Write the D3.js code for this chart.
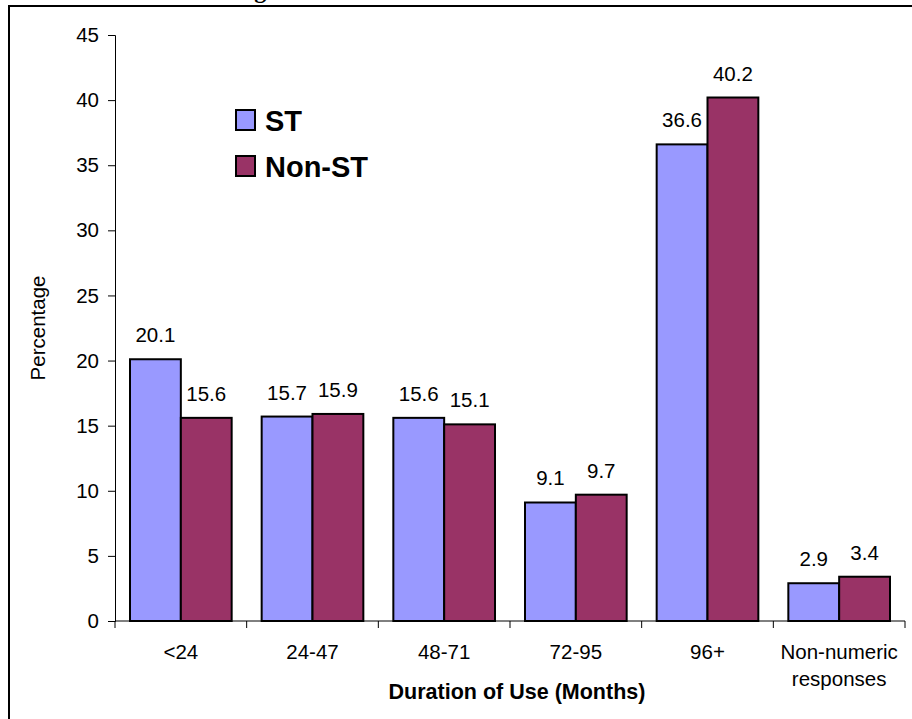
<!DOCTYPE html>
<html>
<head>
<meta charset="utf-8">
<script src="https://cdn.jsdelivr.net/npm/d3@7"></script>
<style>
  html, body { margin: 0; padding: 0; background: #fff; }
  svg { display: block; }
  text { font-family: Arial, "Liberation Sans", sans-serif; fill: #000; }
</style>
</head>
<body>
<svg id="chart" width="912" height="719"></svg>
<script>
// Duration of use, percentage of respondents by group
const categories = ["<24", "24-47", "48-71", "72-95", "96+", "Non-numeric responses"];
const seriesNames = ["ST", "Non-ST"];
const stValues = [20.1, 15.7, 15.6, 9.1, 36.6, 2.9];
const nonStValues = [15.6, 15.9, 15.1, 9.7, 40.2, 3.4];
const yTicks = [0, 5, 10, 15, 20, 25, 30, 35, 40, 45];
const colors = ["#9999FF", "#993366"];

const svg = d3.select("#chart");

// Figure frame (continues past the right and bottom edges)
svg.append("rect")
  .attr("x", 9).attr("y", 6)
  .attr("width", 1000).attr("height", 800)
  .attr("fill", "none").attr("stroke", "#000").attr("stroke-width", 2);

// Caption line above the frame, mostly outside the page
svg.append("text")
  .attr("x", 233).attr("y", -2)
  .style("font-family", "'Liberation Serif', 'Times New Roman', serif")
  .style("font-weight", "bold").style("font-size", "24px")
  .text("Figure");

const plot = { left: 115, right: 905, top: 35, bottom: 621 };

const x0 = d3.scaleBand().domain(categories).range([plot.left, plot.right]).padding(0);
const x1 = d3.scaleBand().domain(seriesNames).range([15, x0.bandwidth() - 15]).padding(0);
const y = d3.scaleLinear().domain([0, 45]).range([plot.bottom, plot.top]);

const rows = categories.map((c, i) => ({ cat: c, values: [stValues[i], nonStValues[i]] }));

// Y axis
const yAxis = svg.append("g")
  .attr("transform", `translate(${plot.left},0)`)
  .call(d3.axisLeft(y).tickValues(yTicks).tickSize(7).tickPadding(9).tickFormat(d3.format("d")));
yAxis.select(".domain").attr("stroke", "#000").attr("stroke-width", 1);
yAxis.selectAll(".tick line").attr("stroke", "#000");
yAxis.selectAll(".tick text").style("font-size", "20.5px").style("font-family", "Arial, 'Liberation Sans', sans-serif").attr("fill", "#000");

// Bars
const groups = svg.append("g").selectAll("g")
  .data(rows).join("g")
  .attr("transform", d => `translate(${x0(d.cat)},0)`);

groups.selectAll("rect")
  .data(d => d.values.map((v, k) => ({ key: seriesNames[k], v, k })))
  .join("rect")
  .attr("x", d => x1(d.key))
  .attr("y", d => y(d.v))
  .attr("width", x1.bandwidth())
  .attr("height", d => y(0) - y(d.v))
  .attr("fill", d => colors[d.k])
  .attr("stroke", "#000").attr("stroke-width", 2);

// Value labels
groups.selectAll("text.val")
  .data(d => d.values.map((v, k) => ({ key: seriesNames[k], v, k })))
  .join("text")
  .attr("class", "val")
  .attr("x", d => x1(d.key) + x1.bandwidth() / 2)
  .attr("y", d => y(d.v) - 17)
  .attr("text-anchor", "middle")
  .style("font-size", "20.5px")
  .text(d => d.v.toFixed(1));

// X axis line with ticks at category boundaries
svg.append("line")
  .attr("x1", plot.left).attr("x2", plot.right)
  .attr("y1", y(0)).attr("y2", y(0))
  .attr("stroke", "#000").attr("stroke-width", 1);
const boundaries = categories.map(c => x0(c)).concat([x0(categories[categories.length - 1]) + x0.step()]);
svg.append("g").selectAll("line")
  .data(boundaries).join("line")
  .attr("x1", d => d).attr("x2", d => d)
  .attr("y1", y(0)).attr("y2", y(0) + 7)
  .attr("stroke", "#000");

// Category labels (wrapped)
const catLabels = svg.append("g").selectAll("text")
  .data(categories).join("text")
  .attr("x", d => x0(d) + x0.bandwidth() / 2)
  .attr("y", 659)
  .attr("text-anchor", "middle")
  .style("font-size", "20.5px");
catLabels.each(function(d) {
  const parts = d === "Non-numeric responses" ? ["Non-numeric", "responses"] : [d];
  const t = d3.select(this);
  parts.forEach((p, i) => {
    t.append("tspan").attr("x", x0(d) + x0.bandwidth() / 2).attr("dy", i === 0 ? 0 : 27).text(p);
  });
});

// Axis titles
svg.append("text")
  .attr("x", 517).attr("y", 699)
  .attr("text-anchor", "middle")
  .style("font-size", "21.5px").style("font-weight", "bold")
  .text("Duration of Use (Months)");

svg.append("text")
  .attr("transform", `translate(45,${(plot.top + plot.bottom) / 2}) rotate(-90)`)
  .attr("text-anchor", "middle")
  .style("font-size", "20.5px")
  .text("Percentage");

// Legend
const legend = svg.append("g").selectAll("g")
  .data(seriesNames).join("g")
  .attr("transform", (d, i) => `translate(236,${110 + i * 46})`);
legend.append("rect")
  .attr("width", 19).attr("height", 20)
  .attr("fill", (d, i) => colors[i])
  .attr("stroke", "#000").attr("stroke-width", 2);
legend.append("text")
  .attr("x", 29).attr("y", 21)
  .style("font-size", "29px").style("font-weight", "bold")
  .text(d => d);
</script>
</body>
</html>
